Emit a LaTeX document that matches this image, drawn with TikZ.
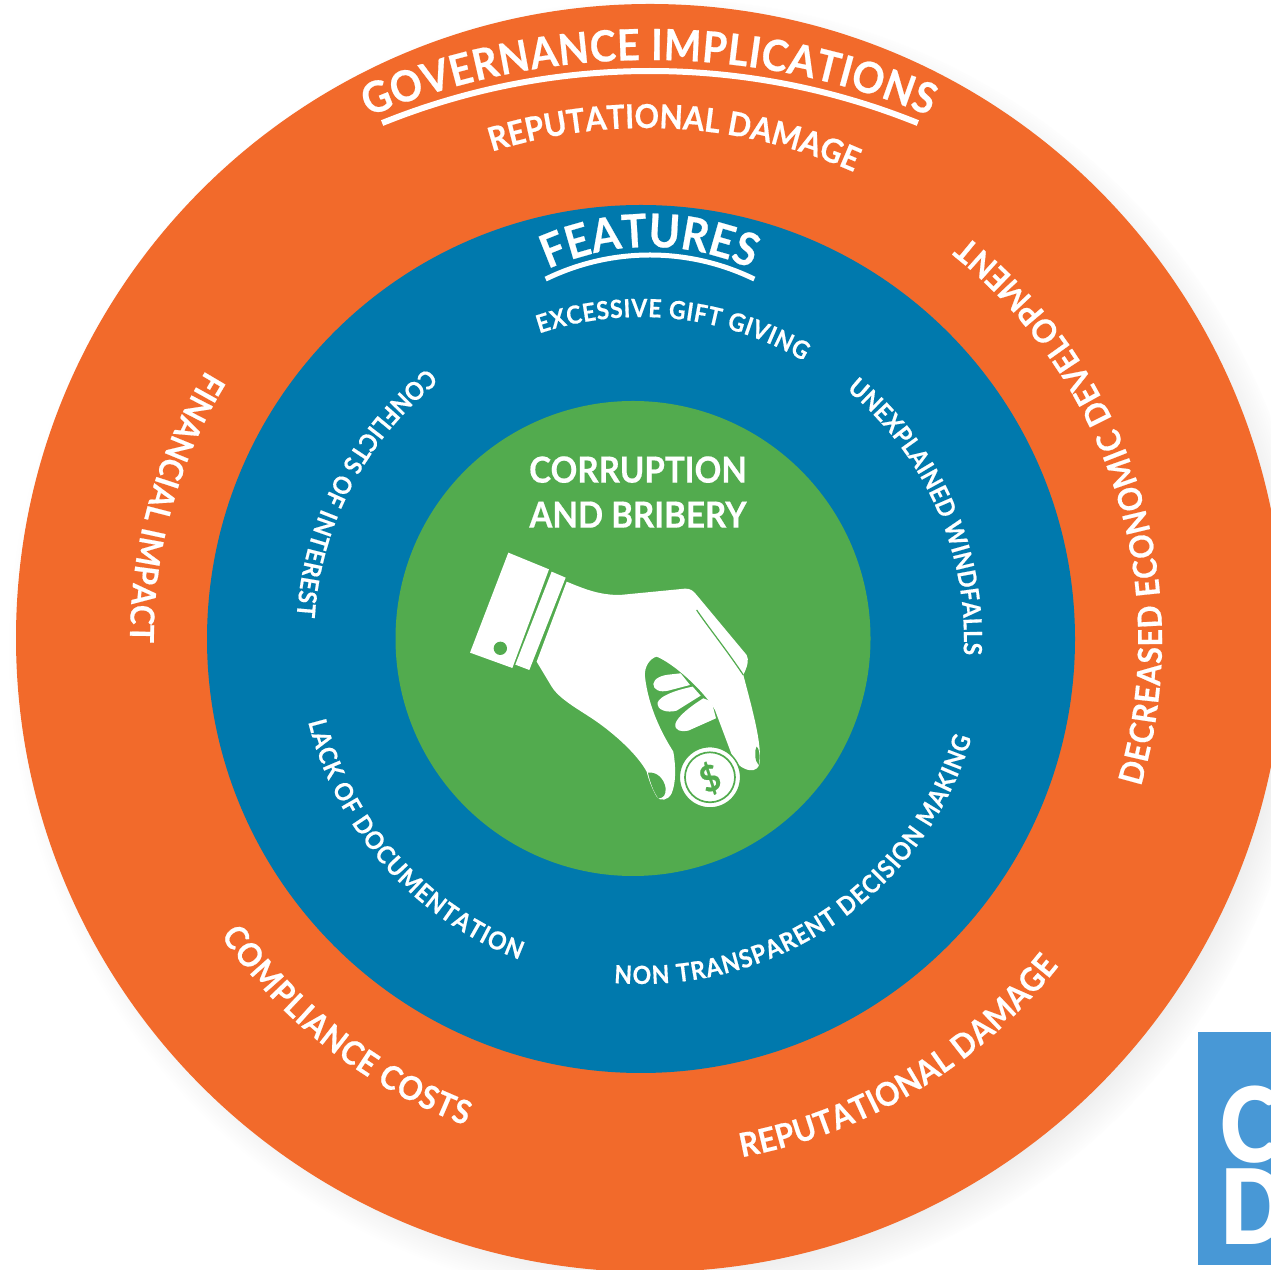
\documentclass[tikz,border=0pt]{standalone}
\usepackage{fontspec}
\setmainfont{Lato}[FakeStretch=0.92,BoldFeatures={FakeBold=0.5}]
\newfontfamily\logofont{Lato Black}[FakeStretch=0.85]
\usetikzlibrary{decorations.text,shadows}

\definecolor{ringorange}{HTML}{F26A2B}
\definecolor{ringblue}{HTML}{0079AD}
\definecolor{ringgreen}{HTML}{52AB4E}
\definecolor{logoblue}{HTML}{4898D6}

\tikzset{
    handpart/.style={fill=white},
    handcut/.style={fill=ringgreen},
    headrule/.style={draw=white},
    centrelabel/.style={text=white,align=center,font=\fontsize{36}{45}\selectfont\bfseries},
    logoletter/.style={text=white,inner sep=0pt,font=\fontsize{104}{104}\logofont}
}

\begin{document}
\begin{tikzpicture}[x=1pt,y=1pt]
        \useasboundingbox (0,0) rectangle (1271,1269);

        % Draw the logo
        \fill[logoblue] (1198,4) rectangle (1271,237);
        \node[logoletter,anchor=west] (logoc) at (1220,144) {C};
        \node[logoletter,anchor=west] (logod) at (1220,62) {D};

        % Draw the three rings
        \fill[ringorange,circular drop shadow={shadow xshift=12pt,shadow yshift=-12pt,shadow scale=1.03,opacity=0.35}] (650,631) circle[radius=634];
        \fill[ringblue] (641,630) circle[radius=434];
        \fill[ringgreen] (633,630.5) circle[radius=237.5];

        % Draw the two rules under the headings
        \draw[headrule,line width=6pt] (650,483) ++(112:715) arc[start angle=112,end angle=68,radius=715];
        \draw[headrule,line width=5pt] (650,776) ++(116:238) arc[start angle=116,end angle=64,radius=238];

        % Draw the ring labels
        \foreach \cx/\cy/\r/\a/\b/\s/\t in {
            650/483/726/112.8/67.4/43/GOVERNANCE IMPLICATIONS,
            646/629/512/107.5/66.8/33/REPUTATIONAL DAMAGE,
            646/629/516/148.5/180.3/33/FINANCIAL IMPACT,
            646/629/516/-16.5/51.5/33/DECREASED ECONOMIC DEVELOPMENT,
            646/629/518/214.8/249.6/33/COMPLIANCE COSTS,
            646/629/526/-79.5/-38.3/33/REPUTATIONAL DAMAGE,
            650/776/246/114.5/66.5/46/FEATURES,
            641/630/322/108.4/59.7/25/EXCESSIVE GIFT GIVING,
            641/630/323/50.5/-2.8/25/UNEXPLAINED WINDFALLS,
            641/630/345/-94.5/-16.7/25/NON TRANSPARENT DECISION MAKING,
            641/630/343/194/249.2/25/LACK OF DOCUMENTATION,
            641/630/345/128.2/176.3/25/CONFLICTS OF INTEREST} {
            \edef\ringtext{|\noexpand\color{white}\noexpand\fontsize{\s}{\s}\noexpand\selectfont\noexpand\bfseries|\t}
            \path[decorate,decoration={text along path,text/.expand once=\ringtext,text align={fit to path}}]
                (\cx,\cy) ++(\a:\r) arc[start angle=\a,end angle=\b,radius=\r];
        }

        % Draw the centre heading
        \node[centrelabel] (centretext) at (638,777) {CORRUPTION\\AND BRIBERY};

        % Draw the hand, coordinates follow the crop of the centre
        \begin{scope}[shift={(440,739)},x=0.3333pt,y=-0.3333pt]
            \fill[handpart] (205,68) -- (327,118) -- (217,414) -- (90,368) -- cycle;
            \fill[handcut] (181,355) circle[radius=20];
            \fill[handpart] (335,125) -- (377,143) -- (268,420) -- (226,404) -- cycle;
            \fill[handpart] (380,155) .. controls (440,180) and (480,195) .. (540,195)
                -- (735,176) .. controls (750,175) and (760,182) .. (770,195)
                -- (920,375) .. controls (928,390) and (922,410) .. (910,435)
                .. controls (935,530) and (960,620) .. (960,680)
                .. controls (962,715) and (945,725) .. (925,720)
                .. controls (895,712) and (880,690) .. (870,660)
                -- (825,540) .. controls (790,480) and (700,400) .. (650,380)
                .. controls (630,385) and (612,410) .. (615,440)
                .. controls (625,530) and (665,610) .. (700,665)
                .. controls (708,710) and (708,760) .. (695,790)
                .. controls (685,812) and (660,815) .. (650,800)
                .. controls (635,775) and (625,745) .. (620,725)
                .. controls (590,670) and (520,610) .. (470,575)
                .. controls (420,540) and (360,510) .. (335,470)
                -- (290,395) -- cycle;
            % nails and crease
            \fill[handcut] (624,728) .. controls (650,725) and (672,745) .. (677,775)
                .. controls (678,795) and (670,805) .. (655,805)
                .. controls (640,785) and (630,755) .. (624,728) -- cycle;
            \fill[handcut] (950,650) .. controls (958,655) and (962,680) .. (956,705)
                .. controls (945,695) and (942,665) .. (950,650) -- cycle;
            \draw[ringgreen,line width=1.2pt] (770,240) .. controls (800,285) and (860,360) .. (910,435);
            % fingers
            \fill[handpart] (640,462) .. controls (642,445) and (665,435) .. (695,433)
                -- (722,430) -- (750,465) -- (685,482) .. controls (660,488) and (640,480) .. (640,462) -- cycle;
            \fill[handpart] (653,518) .. controls (658,500) and (700,482) .. (758,470)
                -- (782,497) -- (710,542) .. controls (680,550) and (650,540) .. (653,518) -- cycle;
            \fill[handpart] (706,582) .. controls (712,560) and (750,530) .. (790,505)
                -- (815,515) -- (828,565) -- (745,602) .. controls (725,607) and (703,602) .. (706,582) -- cycle;
            % coin
            \fill[white,draw=ringgreen,line width=1.5pt] (810,742) circle[radius=92];
            \draw[ringgreen,line width=1.7pt] (810,742) circle[radius=75];
            \node[text=ringgreen,rotate=22,font=\fontsize{36}{36}\selectfont\bfseries] (coinsign) at (810,745) {\$};
        \end{scope}
    \end{tikzpicture}
\end{document}
